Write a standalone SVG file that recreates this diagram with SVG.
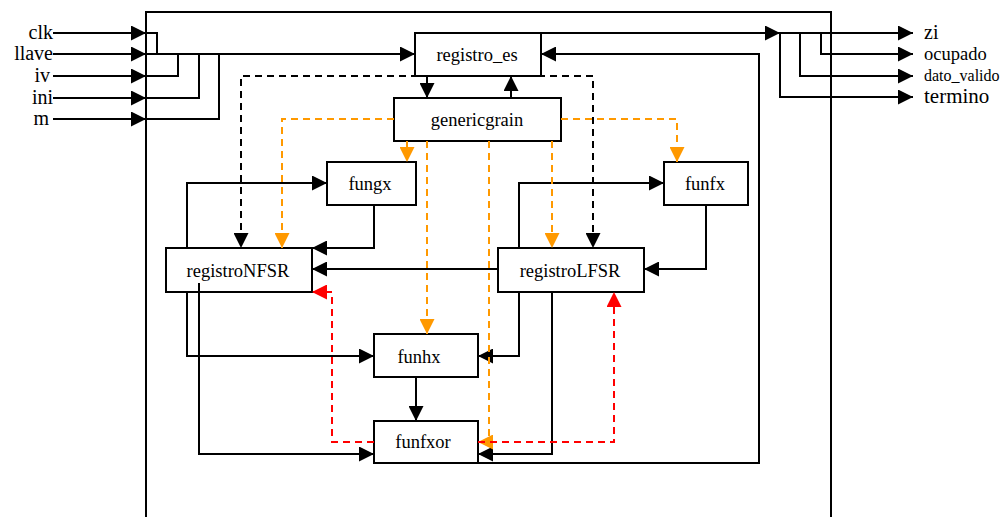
<svg xmlns="http://www.w3.org/2000/svg" width="1002" height="517" viewBox="0 0 1002 517">
  <defs>
    <style>
      .box { fill: #ffffff; stroke: #000000; stroke-width: 2; }
      .lbl { font-family: 'Liberation Serif', 'DejaVu Serif', serif; font-size: 18.5px; fill: #000000; text-anchor: middle; }
      .io { font-family: 'Liberation Serif', 'DejaVu Serif', serif; fill: #000000; }
      .wire { fill: none; stroke: #000000; stroke-width: 2; }
      .blk { marker-end: url(#ahBlack); }
      .dash-k { fill: none; stroke: #000000; stroke-width: 2; stroke-dasharray: 7 5; marker-end: url(#ahBlack); }
      .dash-o { fill: none; stroke: #ff9900; stroke-width: 2; stroke-dasharray: 7 5; marker-end: url(#ahOrange); }
      .dash-r { fill: none; stroke: #ff0000; stroke-width: 2; stroke-dasharray: 7 5; marker-end: url(#ahRed); }
    </style>
    <marker id="ahBlack" markerUnits="userSpaceOnUse" markerWidth="15" markerHeight="15" refX="15" refY="7.5" orient="auto">
      <path d="M0,0 L15,7.5 L0,15 Z" fill="#000000"/>
    </marker>
    <marker id="ahOrange" markerUnits="userSpaceOnUse" markerWidth="15" markerHeight="15" refX="15" refY="7.5" orient="auto">
      <path d="M0,0 L15,7.5 L0,15 Z" fill="#ff9900"/>
    </marker>
    <marker id="ahRed" markerUnits="userSpaceOnUse" markerWidth="15" markerHeight="15" refX="15" refY="7.5" orient="auto">
      <path d="M0,0 L15,7.5 L0,15 Z" fill="#ff0000"/>
    </marker>
  </defs>

  <rect width="1002" height="517" fill="#ffffff"/>

  <!-- enclosing block (open at the bottom) -->
  <path id="frame" class="wire" d="M146,517 V12 H831 V517"/>

  <!-- port labels -->
  <g id="ports">
    <text class="io" x="53" y="39" font-size="20" text-anchor="end">clk</text>
    <text class="io" x="53" y="60" font-size="20" text-anchor="end">llave</text>
    <text class="io" x="50" y="82" font-size="20" text-anchor="end">iv</text>
    <text class="io" x="53" y="104" font-size="20" text-anchor="end">ini</text>
    <text class="io" x="49" y="125" font-size="20" text-anchor="end">m</text>
    <text class="io" x="924" y="39" font-size="20">zi</text>
    <text class="io" x="924" y="60" font-size="18.5">ocupado</text>
    <text class="io" x="924" y="81" font-size="16">dato_valido</text>
    <text class="io" x="924" y="103" font-size="21">termino</text>
  </g>

  <!-- blocks -->
  <g id="registro_es"><rect class="box" x="415" y="33" width="126" height="43"/><text class="lbl" x="477" y="61">registro_es</text></g>
  <g id="genericgrain"><rect class="box" x="394" y="98" width="167" height="43"/><text class="lbl" x="477" y="126">genericgrain</text></g>
  <g id="fungx"><rect class="box" x="327" y="162" width="89" height="43"/><text class="lbl" x="370" y="190">fungx</text></g>
  <g id="funfx"><rect class="box" x="664" y="162" width="84" height="43"/><text class="lbl" x="705" y="190">funfx</text></g>
  <g id="registroNFSR"><rect class="box" x="166" y="248" width="146" height="44"/><text class="lbl" x="238" y="277">registroNFSR</text></g>
  <g id="registroLFSR"><rect class="box" x="498" y="248" width="146" height="44"/><text class="lbl" x="570" y="277">registroLFSR</text></g>
  <g id="funhx"><rect class="box" x="374" y="334" width="104" height="43"/><text class="lbl" x="419" y="363">funhx</text></g>
  <g id="funfxor"><rect class="box" x="374" y="421" width="104" height="42"/><text class="lbl" x="423" y="448">funfxor</text></g>

  <g id="connectors">
    <!-- inputs -->
    <path class="wire blk" d="M53,33 H146"/>
    <path class="wire blk" d="M53,54 H146"/>
    <path class="wire blk" d="M53,76 H146"/>
    <path class="wire blk" d="M53,98 H146"/>
    <path class="wire blk" d="M53,119 H146"/>
    <path class="wire" d="M146,33 H157 V54"/>
    <path class="wire" d="M146,76 H178 V54"/>
    <path class="wire" d="M146,98 H199 V54"/>
    <path class="wire" d="M146,119 H219 V54"/>
    <path class="wire blk" d="M146,54 H415"/>

    <!-- outputs -->
    <path class="wire blk" d="M541,33 H780"/>
    <path class="wire blk" d="M780,33 H913"/>
    <path class="wire blk" d="M821,33 V54 H913"/>
    <path class="wire blk" d="M800,33 V76 H913"/>
    <path class="wire blk" d="M780,33 V97 H913"/>

    <!-- registro_es / genericgrain -->
    <path class="wire blk" d="M427,76 V98"/>
    <path class="wire blk" d="M511,98 V76"/>

    <!-- funfxor feedback to registro_es -->
    <path class="wire blk" d="M478,463 H759 V54 H541"/>

    <!-- register / function links -->
    <path class="wire blk" d="M187,248 V183 H327"/>
    <path class="wire blk" d="M374,205 V248 H312"/>
    <path class="wire blk" d="M498,269 H312"/>
    <path class="wire blk" d="M519,248 V183 H664"/>
    <path class="wire blk" d="M706,205 V269 H644"/>
    <path class="wire blk" d="M187,292 V356 H374"/>
    <path class="wire blk" d="M199,283 V454 H374"/>
    <path class="wire blk" d="M519,292 V356 H478"/>
    <path class="wire blk" d="M552,292 V454 H478"/>
    <path class="wire blk" d="M416,377 V421"/>

    <!-- dashed control from registro_es -->
    <path class="dash-k" d="M478,76 H241 V248"/>
    <path class="dash-k" d="M478,76 H593 V248"/>

    <!-- dashed control from genericgrain -->
    <path class="dash-o" d="M394,119 H282 V248"/>
    <path class="dash-o" d="M561,119 H677 V162"/>
    <path class="dash-o" d="M407,141 V162"/>
    <path class="dash-o" d="M427,141 V334"/>
    <path class="dash-o" d="M489,141 V442 H478"/>
    <path class="dash-o" d="M552,141 V248"/>

    <!-- dashed feedback from funfxor -->
    <path class="dash-r" d="M374,442 H332 V292 H312"/>
    <path class="dash-r" d="M478,442 H614 V292"/>
  </g>
</svg>
